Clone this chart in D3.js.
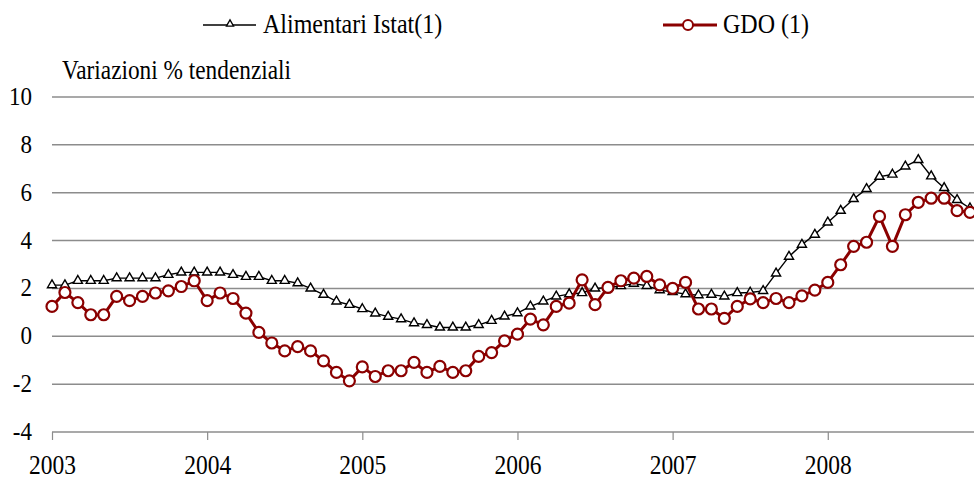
<!DOCTYPE html>
<html>
<head>
<meta charset="utf-8">
<style>
    body { margin: 0; background: #fff; }
</style>
</head>
<body>
<script src="https://d3js.org/d3.v7.min.js"></script>
<div id="chart"></div>
<script>
    const years = ["2003", "2004", "2005", "2006", "2007", "2008"]
    const yTicks = [-4, -2, 0, 2, 4, 6, 8, 10]

    // Alimentari Istat(1), monthly Jan 2003 - Dec 2008
    const istat = [
        2.14, 2.14, 2.32, 2.32, 2.32, 2.43, 2.43, 2.43, 2.43, 2.57, 2.67, 2.67,
        2.67, 2.67, 2.57, 2.49, 2.49, 2.32, 2.32, 2.22, 2.0, 1.74, 1.46, 1.32,
        1.14, 0.96, 0.82, 0.72, 0.55, 0.48, 0.37, 0.37, 0.37, 0.48, 0.65, 0.83,
        0.97, 1.25, 1.46, 1.67, 1.76, 1.81, 2.0, 2.04, 2.1, 2.2, 2.11, 1.93,
        1.85, 1.76, 1.72, 1.74, 1.67, 1.81, 1.83, 1.9, 2.63, 3.33, 3.83, 4.25,
        4.76, 5.25, 5.74, 6.16, 6.67, 6.76, 7.1, 7.37, 6.69, 6.2, 5.7, 5.35
    ]

    // GDO (1)
    const gdo = [
        1.25, 1.83, 1.41, 0.9, 0.9, 1.67, 1.49, 1.67, 1.81, 1.9, 2.08, 2.32,
        1.49, 1.81, 1.58, 0.97, 0.16, -0.28, -0.61, -0.43, -0.61, -1.03, -1.51, -1.86,
        -1.28, -1.68, -1.44, -1.44, -1.09, -1.51, -1.26, -1.51, -1.44, -0.84, -0.68, -0.19,
        0.09, 0.72, 0.48, 1.25, 1.39, 2.36, 1.32, 2.04, 2.32, 2.43, 2.5, 2.15,
        2.0, 2.25, 1.14, 1.14, 0.75, 1.25, 1.56, 1.41, 1.58, 1.41, 1.69, 1.93,
        2.25, 2.99, 3.76, 3.93, 5.01, 3.76, 5.08, 5.6, 5.77, 5.77, 5.25, 5.18
    ]

    const width = 974
    const height = 479
    const left = 52
    const red = "#8b0000"
    const font = "'Times New Roman', 'Liberation Serif', serif"
    // the source text is a bit taller than wide, so stretch it vertically
    const stretch = "scale(1,1.13)"

    const svg = d3.select("#chart").append("svg")
        .attr("width", width).attr("height", height)
        .style("font-family", font)

    const x = d3.scaleLinear()
        .domain([0, istat.length - 1])
        .range([left, 970])

    const y = d3.scaleLinear()
        .domain([-4, 10])
        .range([432, 97])

    // grid lines
    svg.append("g")
        .selectAll("line")
        .data(yTicks)
        .enter()
        .append("line")
        .attr("x1", left).attr("x2", width)
        .attr("y1", d => y(d)).attr("y2", d => y(d))
        .attr("stroke", "#8c8c8c")
        .attr("stroke-width", 1.5)

    // y axis labels
    const yAxis = d3.axisLeft(y)
        .tickValues(yTicks)
        .tickFormat(d => String(d))
        .tickSize(0)
    svg.append("g")
        .attr("transform", "translate(" + left + ",0)")
        .call(yAxis)
        .attr("font-family", null)
        .call(g => g.select(".domain").remove())
        .selectAll("text")
        .attr("x", -20).attr("y", 0).attr("dy", null)
        .attr("transform", "translate(0,7.5) " + stretch)
        .style("font-size", "23px")
        .attr("fill", "#000")

    // x axis: year ticks on the first month of each year
    const xAxis = d3.axisBottom(x)
        .tickValues(years.map((d, i) => i * 12))
        .tickFormat((d, i) => years[i])
        .tickSize(8)
    svg.append("g")
        .attr("transform", "translate(0," + y(-4) + ")")
        .call(xAxis)
        .attr("font-family", null)
        .call(g => g.select(".domain").remove())
        .call(g => g.selectAll("line").attr("stroke", "#8c8c8c").attr("stroke-width", 1.2))
        .selectAll("text")
        .attr("y", 0).attr("dy", null)
        .attr("transform", "translate(0,42) " + stretch)
        .style("font-size", "23.5px")
        .attr("fill", "#000")

    // istat line
    const line = d3.line().x((d, i) => x(i)).y(d => y(d))

    svg.append("path")
        .datum(istat)
        .attr("d", line)
        .attr("fill", "none")
        .attr("stroke", "#000")
        .attr("stroke-width", 1.4)

    const tri = d3.symbol().type(d3.symbolTriangle).size(36)

    svg.append("g")
        .selectAll("path")
        .data(istat)
        .enter()
        .append("path")
        .attr("d", tri)
        .attr("transform", (d, i) => "translate(" + x(i) + "," + y(d) + ")")
        .attr("fill", "#fff")
        .attr("stroke", "#000")
        .attr("stroke-width", 1.4)

    // gdo line
    svg.append("path")
        .datum(gdo)
        .attr("d", line)
        .attr("fill", "none")
        .attr("stroke", red)
        .attr("stroke-width", 3)

    svg.append("g")
        .selectAll("circle")
        .data(gdo)
        .enter()
        .append("circle")
        .attr("cx", (d, i) => x(i))
        .attr("cy", d => y(d))
        .attr("r", 5.5)
        .attr("fill", "#fff")
        .attr("stroke", red)
        .attr("stroke-width", 2.2)

    // axis title
    svg.append("text")
        .attr("transform", "translate(62,79) " + stretch)
        .style("font-size", "23.3px")
        .text("Variazioni % tendenziali")

    // legend
    const legend = svg.append("g")
    legend.append("line")
        .attr("x1", 203).attr("x2", 256).attr("y1", 25).attr("y2", 25)
        .attr("stroke", "#000").attr("stroke-width", 1.4)
    legend.append("path")
        .attr("d", d3.symbol().type(d3.symbolTriangle).size(22))
        .attr("transform", "translate(230,24)")
        .attr("fill", "#fff").attr("stroke", "#000").attr("stroke-width", 1.3)
    legend.append("text")
        .attr("transform", "translate(263,33) " + stretch)
        .style("font-size", "24px")
        .text("Alimentari Istat(1)")

    legend.append("line")
        .attr("x1", 663).attr("x2", 717).attr("y1", 25).attr("y2", 25)
        .attr("stroke", red).attr("stroke-width", 3)
    legend.append("circle")
        .attr("cx", 688).attr("cy", 25).attr("r", 5)
        .attr("fill", "#fff").attr("stroke", red).attr("stroke-width", 2)
    legend.append("text")
        .attr("transform", "translate(723,33) " + stretch)
        .style("font-size", "24px")
        .text("GDO (1)")
</script>
</body>
</html>
